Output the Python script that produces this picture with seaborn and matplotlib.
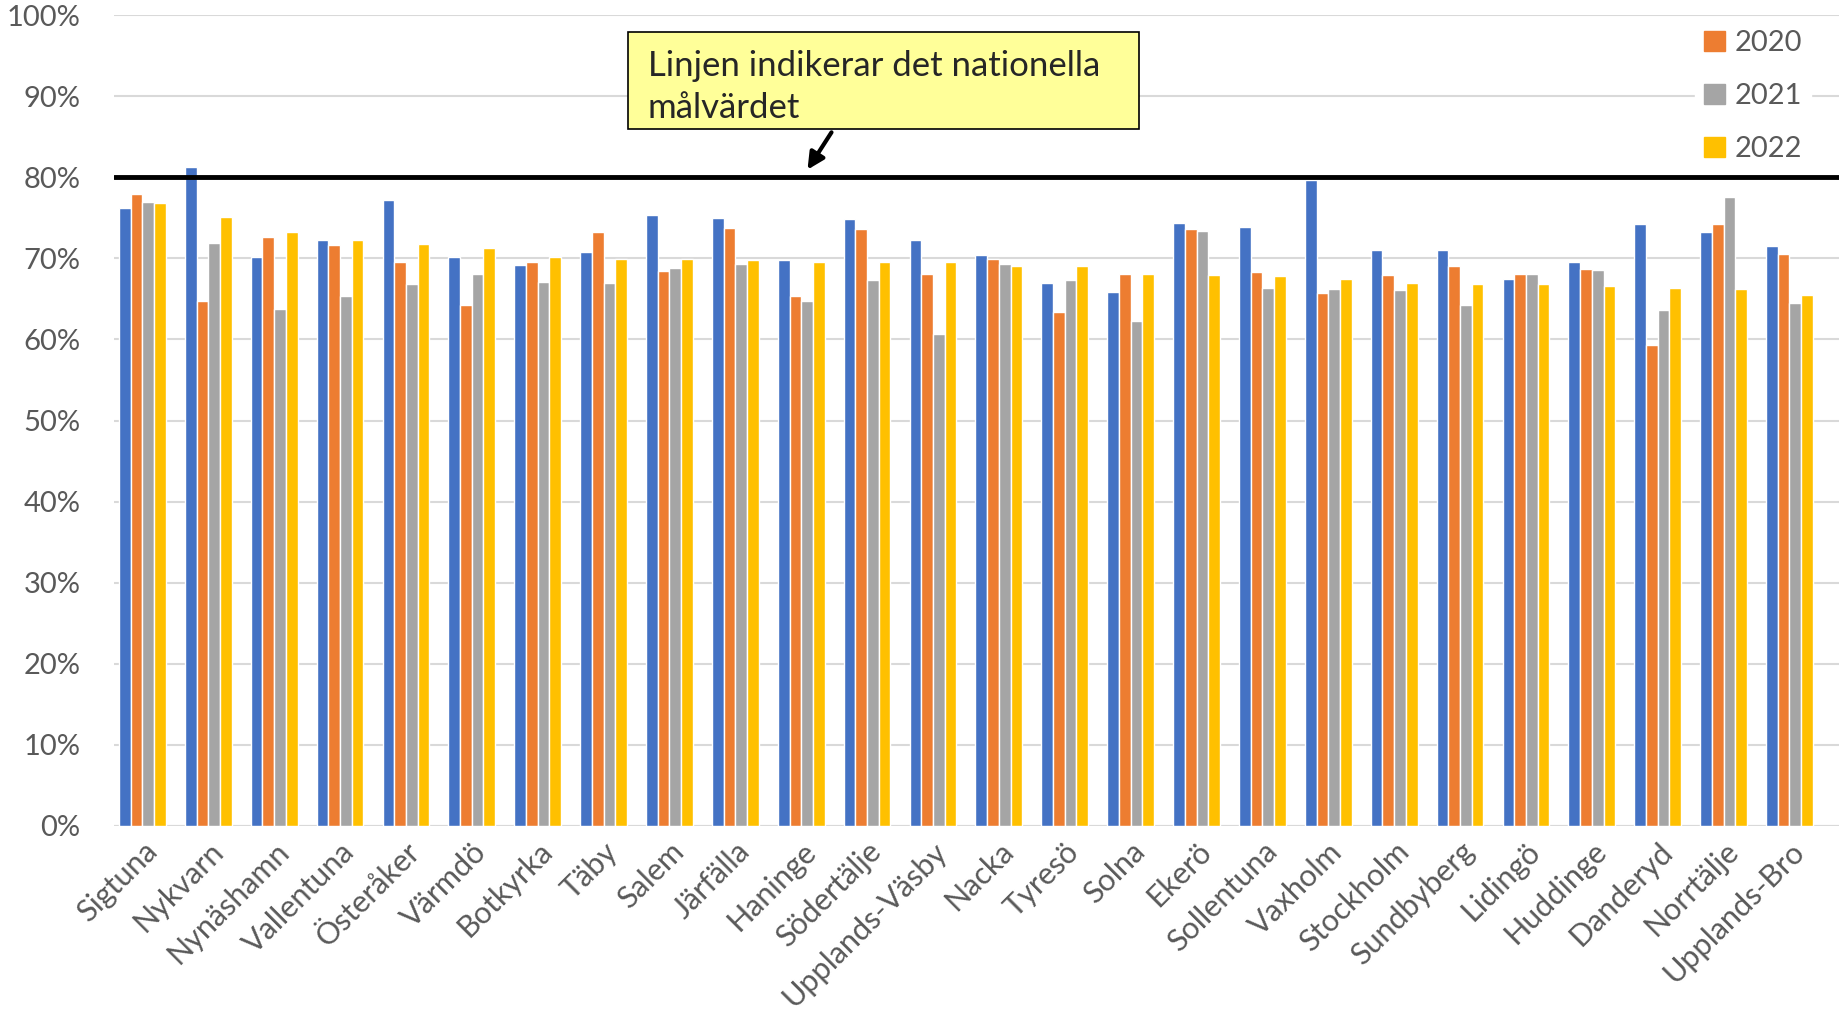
import numpy as np
import pandas as pd
import seaborn as sns
import matplotlib.pyplot as plt
from matplotlib.patches import Rectangle, Patch

kommuner = ['Sigtuna', 'Nykvarn', 'Nynäshamn', 'Vallentuna', 'Österåker', 'Värmdö',
            'Botkyrka', 'Täby', 'Salem', 'Järfälla', 'Haninge', 'Södertälje',
            'Upplands-Väsby', 'Nacka', 'Tyresö', 'Solna', 'Ekerö', 'Sollentuna',
            'Vaxholm', 'Stockholm', 'Sundbyberg', 'Lidingö', 'Huddinge', 'Danderyd',
            'Norrtälje', 'Upplands-Bro']

v2019 = [76.2, 81.3, 70.2, 72.3, 77.2, 70.2, 69.2, 70.8, 75.4, 75.0, 69.8, 74.9, 72.3,
         70.4, 67.0, 65.9, 74.4, 73.9, 79.7, 71.0, 71.0, 67.5, 69.6, 74.3, 73.3, 71.5]
v2020 = [77.9, 64.7, 72.6, 71.6, 69.5, 64.2, 69.5, 73.2, 68.4, 73.8, 65.3, 73.6, 68.1,
         69.9, 63.4, 68.1, 73.6, 68.3, 65.7, 68.0, 69.1, 68.1, 68.7, 59.3, 74.3, 70.6]
v2021 = [76.9, 71.9, 63.7, 65.4, 66.9, 68.1, 67.1, 67.0, 68.8, 69.3, 64.7, 67.3, 60.7,
         69.3, 67.3, 62.3, 73.4, 66.3, 66.2, 66.1, 64.2, 68.1, 68.6, 63.6, 77.6, 64.5]
v2022 = [76.8, 75.1, 73.2, 72.3, 71.8, 71.3, 70.2, 69.9, 69.9, 69.8, 69.6, 69.5, 69.5,
         69.0, 69.0, 68.1, 67.9, 67.8, 67.4, 67.0, 66.8, 66.8, 66.6, 66.3, 66.2, 65.5]

years = ['2019', '2020', '2021', '2022']
colors = ['#4472C4', '#ED7D31', '#A5A5A5', '#FFC000']
malvarde = 80

df = pd.DataFrame({'kommun': kommuner * 4,
                   'ar': np.repeat(years, len(kommuner)),
                   'andel': v2019 + v2020 + v2021 + v2022})

sns.set_style('white')
plt.rcParams['font.family'] = ['Lato', 'DejaVu Sans']

fig = plt.figure(figsize=(18.45, 10.09), dpi=100)
ax = fig.add_axes([0.0618, 0.1814, 0.9349, 0.8036])

sns.barplot(data=df, x='kommun', y='andel', hue='ar', palette=colors,
            width=0.71, gap=0, ax=ax, legend=False, saturation=1)

ax.set_ylim(0, 100)
ax.set_xlim(-0.43, 25.75)
ax.set_yticks(range(0, 101, 10))
ax.set_yticklabels([f'{t}%' for t in range(0, 101, 10)], fontsize=21, color='#595959')
ax.set_xticks(range(len(kommuner)))
ax.set_xticklabels(kommuner, rotation=45, ha='right', rotation_mode='anchor',
                   fontsize=22, color='#595959')
ax.tick_params(axis='x', length=0, pad=8)
ax.tick_params(axis='y', length=0, pad=24)
ax.yaxis.grid(True, color='#D9D9D9', lw=1.5)
ax.set_axisbelow(True)
for s in ax.spines.values():
    s.set_visible(False)
ax.axhline(0, color='#D9D9D9', lw=1.5, zorder=0)
ax.set_xlabel('')
ax.set_ylabel('')

# nationella målvärdet
ax.axhline(malvarde, color='black', lw=3.5, zorder=5)

handles = [Patch(color=c) for c in colors[1:]]
leg = fig.legend(handles, years[1:], loc='upper left', bbox_to_anchor=(0.911, 0.993),
                 frameon=True, fontsize=21, labelcolor='#595959', handlelength=0.7,
                 handleheight=0.7, handletextpad=0.35, labelspacing=0.92,
                 borderpad=0.3)
leg.get_frame().set_edgecolor('white')
leg.get_frame().set_facecolor('white')
leg.get_frame().set_alpha(1)

# textruta med pil
fig.patches.append(Rectangle((628 / 1845, 1 - 129 / 1009), 511 / 1845, 97 / 1009,
                             transform=fig.transFigure, facecolor='#FFFF99',
                             edgecolor='black', lw=1.2, zorder=10))
fig.text(648 / 1845, 1 - 87 / 1009, 'Linjen indikerar det nationella\nmålvärdet',
         fontsize=25, va='center', ha='left', linespacing=1.4, zorder=11)
ax.annotate('', xy=(806, 1009 - 172), xycoords='figure pixels',
            xytext=(833, 1009 - 130), textcoords='figure pixels',
            arrowprops=dict(arrowstyle='-|>', color='black', lw=3, mutation_scale=25))

fig.savefig('out.png', dpi=100)
